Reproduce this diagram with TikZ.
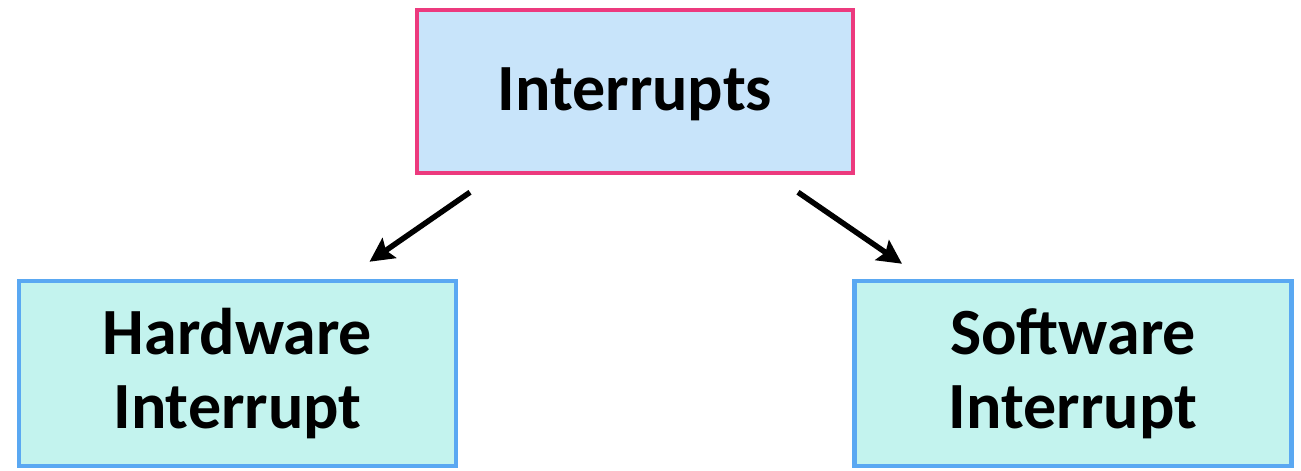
\documentclass[tikz,border=0pt]{standalone}
\usepackage{fontspec}
\setmainfont{Carlito}
\usetikzlibrary{arrows.meta,calc}
\definecolor{topfill}{HTML}{C8E4FA}
\definecolor{topdraw}{HTML}{EC3A7E}
\definecolor{botfill}{HTML}{C3F3EE}
\definecolor{botdraw}{HTML}{5AA8F2}
\tikzset{
  box/.style={rectangle, line width=4.5pt, align=center, inner sep=0pt,
    font=\fontsize{66}{74}\selectfont\bfseries},
  topbox/.style={box, draw=topdraw, fill=topfill, minimum width=436pt, minimum height=163pt, text depth=5pt},
  botbox/.style={box, draw=botdraw, fill=botfill, minimum width=437pt, minimum height=185pt},
  arr/.style={line width=5.5pt, -{Stealth[length=24pt,width=24pt,inset=4pt]}}
}
\begin{document}
\begin{tikzpicture}[x=1pt,y=-1pt]
\useasboundingbox (0,0) rectangle (1301,471);
\node[topbox] (top) at (635,91.5) {Interrupts};
\node[botbox] (hw) at (237.5,373.5) {Hardware\\Interrupt};
\node[botbox] (sw) at (1073,373.5) {Software\\Interrupt};
\draw[arr] ($(top.south)+(-165,17)$) -- ($(hw.north)+(132,-17)$);
\draw[arr] ($(top.south)+(163,17)$) -- ($(sw.north)+(-171,-15)$);
\end{tikzpicture}
\end{document}
